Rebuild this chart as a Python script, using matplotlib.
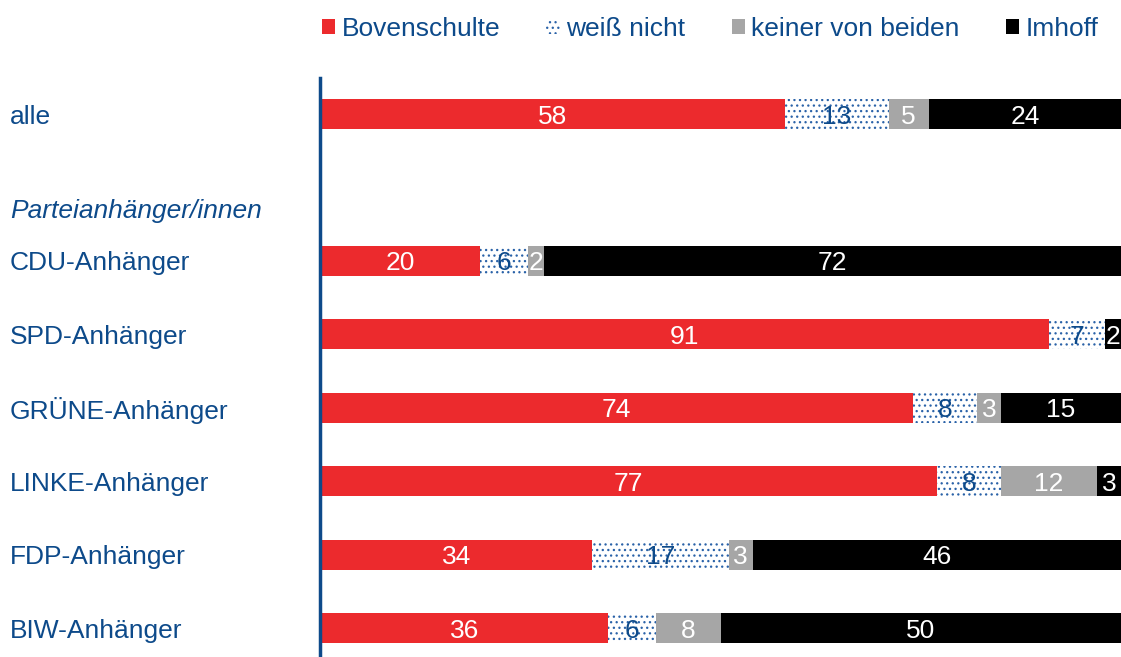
import matplotlib.pyplot as plt
from matplotlib.patches import Patch
import matplotlib as mpl

plt.rcParams['font.family'] = ['Liberation Sans', 'DejaVu Sans']
mpl.rcParams['hatch.linewidth'] = 0.9

# data
groups = ['alle', 'CDU-Anhänger', 'SPD-Anhänger', 'GRÜNE-Anhänger',
          'LINKE-Anhänger', 'FDP-Anhänger', 'BIW-Anhänger']
rows = [0, 2, 3, 4, 5, 6, 7]
series = ['Bovenschulte', 'weiß nicht', 'keiner von beiden', 'Imhoff']
bovenschulte = [58, 20, 91, 74, 77, 34, 36]
weiss_nicht = [13, 6, 7, 8, 8, 17, 6]
keiner = [5, 2, 0, 3, 12, 3, 8]
imhoff = [24, 72, 2, 15, 3, 46, 50]

blue = '#0d4a8a'
colors = ['#ec2a2d', 'white', '#a6a6a6', 'black']
text_colors = ['white', blue, 'white', 'white']
fs = 19

W, H = 1121, 657
fig = plt.figure(figsize=(W / 100, H / 100), dpi=100)
ax = fig.add_axes([320 / W, 0, 1 - 320 / W, (657 - 78) / H])

left = [0] * len(rows)
for vals, col, tcol in zip([bovenschulte, weiss_nicht, keiner, imhoff], colors, text_colors):
    if col == 'white':
        ax.barh(rows, vals, left=left, height=0.41, color='white',
                edgecolor='#2a62a8', hatch='...', linewidth=0)
    else:
        ax.barh(rows, vals, left=left, height=0.41, color=col, linewidth=0)
    for r, v, l in zip(rows, vals, left):
        if v > 0:
            ax.text(l + v / 2, r, str(v), ha='center', va='center_baseline',
                    color=tcol, fontsize=fs)
    left = [a + b for a, b in zip(left, vals)]

ax.set_xlim(0, 100)
ax.set_ylim(7.39, -0.49)
ax.set_xticks([])
ax.set_yticks([])
for s in ['top', 'right', 'bottom']:
    ax.spines[s].set_visible(False)
ax.spines['left'].set_color(blue)
ax.spines['left'].set_linewidth(2.5)

# row labels
for g, r in zip(groups, rows):
    y = ax.transData.transform((0, r))[1]
    fig.text(10 / W, y / H, g, ha='left', va='center_baseline', color=blue, fontsize=fs)
y = ax.transData.transform((0, 1.28))[1]
fig.text(10 / W, y / H, 'Parteianhänger/innen', ha='left', va='center_baseline',
         color=blue, fontsize=fs, style='italic')

handles = [Patch(facecolor=colors[0]),
           Patch(facecolor='white', edgecolor='#2a62a8', hatch='...', linewidth=0),
           Patch(facecolor=colors[2]),
           Patch(facecolor=colors[3])]
leg = fig.legend(handles, series, loc='center right', bbox_to_anchor=(1.0, 1 - 29 / H),
                 ncol=4, frameon=False, fontsize=fs, handlelength=0.5, handleheight=0.5,
                 handletextpad=0.25, columnspacing=1.75, borderaxespad=0.45)
for t in leg.get_texts():
    t.set_color(blue)

fig.savefig('out.png', dpi=100)
